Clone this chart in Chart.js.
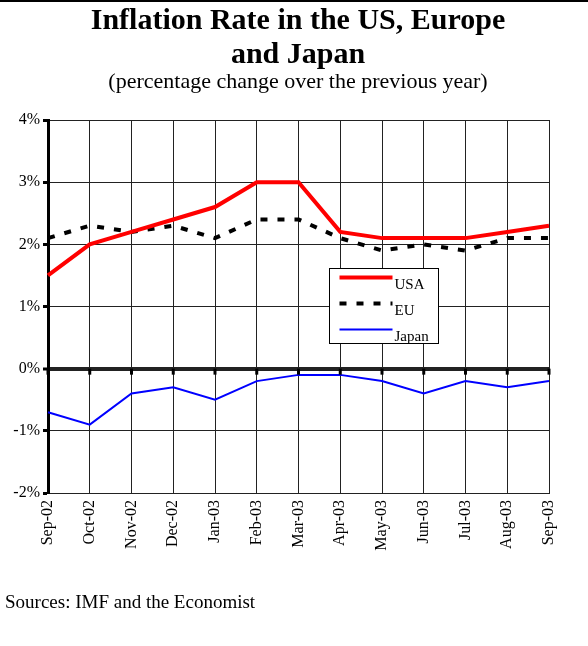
<!DOCTYPE html>
<html>
<head>
<meta charset="utf-8">
<script src="https://cdn.jsdelivr.net/npm/chart.js@4"></script>
<style>
  body { margin: 0; background: #fff; }
  #wrap { position: relative; width: 588px; height: 646px; border-top: 2px solid #000; box-sizing: border-box; overflow: hidden; }
  #chart { position: absolute; left: 0; top: -2px; }
  .txt { position: absolute; left: 0; width: 596px; text-align: center; font-family: "Liberation Serif", "Times New Roman", serif; color: #000; white-space: nowrap; }
  #t1 { top: 0px; font-size: 30px; font-weight: bold; line-height: 34px; }
  #t2 { top: 34px; font-size: 30px; font-weight: bold; line-height: 34px; }
  #sub { top: 66px; font-size: 22px; line-height: 26px; }
  #src { top: 589px; left: 5px; width: auto; text-align: left; font-size: 19px; }
</style>
</head>
<body>
<div id="wrap">
  <canvas id="chart" width="588" height="646"></canvas>
  <div class="txt" id="t1">Inflation Rate in the US, Europe</div>
  <div class="txt" id="t2">and Japan</div>
  <div class="txt" id="sub">(percentage change over the previous year)</div>
  <div class="txt" id="src">Sources: IMF and the Economist</div>
</div>
<script>
const months = ["Sep-02","Oct-02","Nov-02","Dec-02","Jan-03","Feb-03","Mar-03","Apr-03","May-03","Jun-03","Jul-03","Aug-03","Sep-03"];
const usa = [1.5, 2.0, 2.2, 2.4, 2.6, 3.0, 3.0, 2.2, 2.1, 2.1, 2.1, 2.2, 2.3];
const eu = [2.1, 2.3, 2.2, 2.3, 2.1, 2.4, 2.4, 2.1, 1.9, 2.0, 1.9, 2.1, 2.1];
const japan = [-0.7, -0.9, -0.4, -0.3, -0.5, -0.2, -0.1, -0.1, -0.2, -0.4, -0.2, -0.3, -0.2];

const serif = "'Liberation Serif', 'Times New Roman', serif";

// small tick marks under the zero line
const zeroTicks = {
    id: 'zeroTicks',
    afterDatasetsDraw(chart) {
        const c = chart.ctx, x = chart.scales.x, y = chart.scales.y;
        const y0 = y.getPixelForValue(0);
        c.save();
        c.strokeStyle = '#000';
        c.lineWidth = 3;
        for (let i = 0; i < months.length; i++) {
            const px = x.getPixelForValue(i);
            c.beginPath();
            c.moveTo(px, y0);
            c.lineTo(px, y0 + 6);
            c.stroke();
        }
        c.restore();
    }
};

// legend box inside the plot
const boxLegend = {
    id: 'boxLegend',
    afterDraw(chart) {
        const c = chart.ctx;
        const bx = 329.5, by = 268.5, bw = 109, bh = 75;
        c.save();
        c.fillStyle = '#fff';
        c.fillRect(bx, by, bw, bh);
        c.strokeStyle = '#000';
        c.lineWidth = 1;
        c.strokeRect(bx, by, bw, bh);
        c.font = '15px ' + serif;
        c.textBaseline = 'alphabetic';
        chart.data.datasets.forEach((ds, i) => {
            const ly = by + 9 + i * 26;
            c.beginPath();
            c.strokeStyle = ds.borderColor;
            c.lineWidth = ds.borderWidth;
            c.setLineDash(ds.borderDash || []);
            c.moveTo(bx + 10, ly);
            c.lineTo(bx + 63, ly);
            c.stroke();
            c.setLineDash([]);
            c.fillStyle = '#000';
            c.fillText(ds.label, bx + 65, ly + 11);
        });
        c.restore();
    }
};

new Chart(document.getElementById('chart'), {
    type: 'line',
    data: {
        labels: months,
        datasets: [
            { label: 'USA', data: usa, borderColor: '#ff0000', borderWidth: 4 },
            { label: 'EU', data: eu, borderColor: '#000000', borderWidth: 4, borderDash: [7, 10] },
            { label: 'Japan', data: japan, borderColor: '#0000ff', borderWidth: 2 }
        ]
    },
    options: {
        responsive: false,
        animation: false,
        layout: { padding: { top: 120, left: 0, right: 39, bottom: 0 } },
        elements: { point: { radius: 0 }, line: { tension: 0 } },
        plugins: { legend: { display: false }, title: { display: false }, tooltip: { enabled: false } },
        scales: {
            x: {
                offset: false,
                afterFit(s) { s.height = 153; },
                grid: { color: '#222', lineWidth: 1, drawTicks: false },
                border: { color: '#222', width: 1 },
                ticks: {
                    autoSkip: false, maxRotation: 90, minRotation: 90, padding: 7,
                    color: '#000', font: { family: serif, size: 16 }
                }
            },
            y: {
                min: -2, max: 4,
                afterFit(s) { s.width = 48; },
                grid: {
                    color: '#222',
                    lineWidth: (ctx) => ctx.tick && ctx.tick.value === 0 ? 4 : 1,
                    tickLength: 5, tickWidth: 3, tickColor: '#000'
                },
                border: { color: '#000', width: 3 },
                ticks: {
                    stepSize: 1, padding: 3, color: '#000',
                    font: { family: serif, size: 16 },
                    callback: (v) => v + '%'
                }
            }
        }
    },
    plugins: [zeroTicks, boxLegend]
});
</script>
</body>
</html>
